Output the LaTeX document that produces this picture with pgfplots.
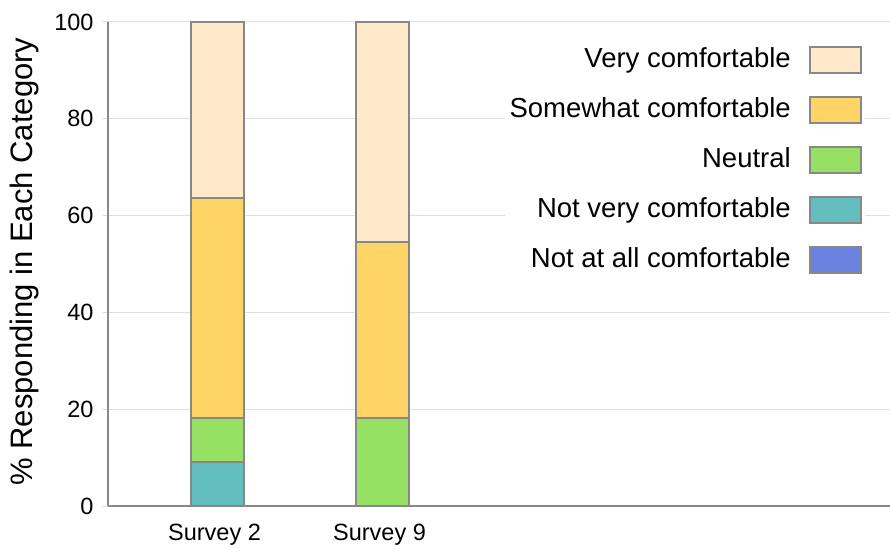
\documentclass[border=0pt]{standalone}
\usepackage{pgfplots}
\pgfplotsset{compat=1.18}
\usepackage{fontspec}
\setmainfont{Liberation Sans}
\definecolor{cvery}{HTML}{FFE9C8}
\definecolor{csome}{HTML}{FFD466}
\definecolor{cneut}{HTML}{96E064}
\definecolor{cnotv}{HTML}{63BFBF}
\definecolor{cnota}{HTML}{6A83E0}
\definecolor{edge}{HTML}{888888}
\begin{document}
\begin{tikzpicture}
\useasboundingbox (-108pt,-42pt) rectangle (782pt,506pt);
\begin{axis}[
  at={(0pt,0pt)}, anchor=south west,
  scale only axis, width=782pt, height=484pt,
  ybar stacked, bar width=53pt,
  xmin=-0.664, xmax=4.076, ymin=0, ymax=100,
  xtick={0,1}, xticklabels={Survey 2, Survey 9},
  ytick={0,20,40,60,80,100},
  ymajorgrids, grid style={draw=black!12, line width=1pt},
  axis x line*=bottom, axis y line*=left,
  axis line style={draw=edge, line width=1.5pt},
  xtick style={draw=none},
  ytick style={draw=black!15, line width=1pt},
  tick align=outside, major tick length=5pt,
  tick label style={font=\fontsize{23.5}{28}\selectfont},
  /pgf/number format/assume math mode=true,
  yticklabel style={xshift=-6pt},
  xticklabel style={yshift=-10pt, xshift=-3pt},
  ylabel={\% Responding in Each Category},
  every axis y label/.style={at={(axis description cs:0,0.505)}, rotate=90, anchor=base, yshift=75pt,
    font=\fontsize{31}{36}\selectfont},
  legend image code/.code={\path[draw=none, fill=none] (0pt,0pt) -- (68pt,0pt); \draw[#1, line width=2pt] (17pt,-13pt) rectangle (68pt,13pt);},
  legend plot pos=right,
  reverse legend,
  legend cell align=right,
  legend style={at={(0.968,0.956)}, anchor=north east, draw=none, fill=white,
    font=\fontsize{27.5}{32}\selectfont, row sep=20pt,
    nodes={inner sep=2pt, text height=20pt, text depth=6pt}},
  every axis plot/.append style={draw=edge, line width=2pt},
]
\addplot[fill=cnota] coordinates {(0,0) (1,0)};
\addplot[fill=cnotv] coordinates {(0,9.09) (1,0)};
\addplot[fill=cneut] coordinates {(0,9.09) (1,18.18)};
\addplot[fill=csome] coordinates {(0,45.45) (1,36.36)};
\addplot[fill=cvery] coordinates {(0,36.36) (1,45.45)};
\legend{Not at all comfortable, Not very comfortable, Neutral, Somewhat comfortable, Very comfortable}
\end{axis}
\end{tikzpicture}
\end{document}
